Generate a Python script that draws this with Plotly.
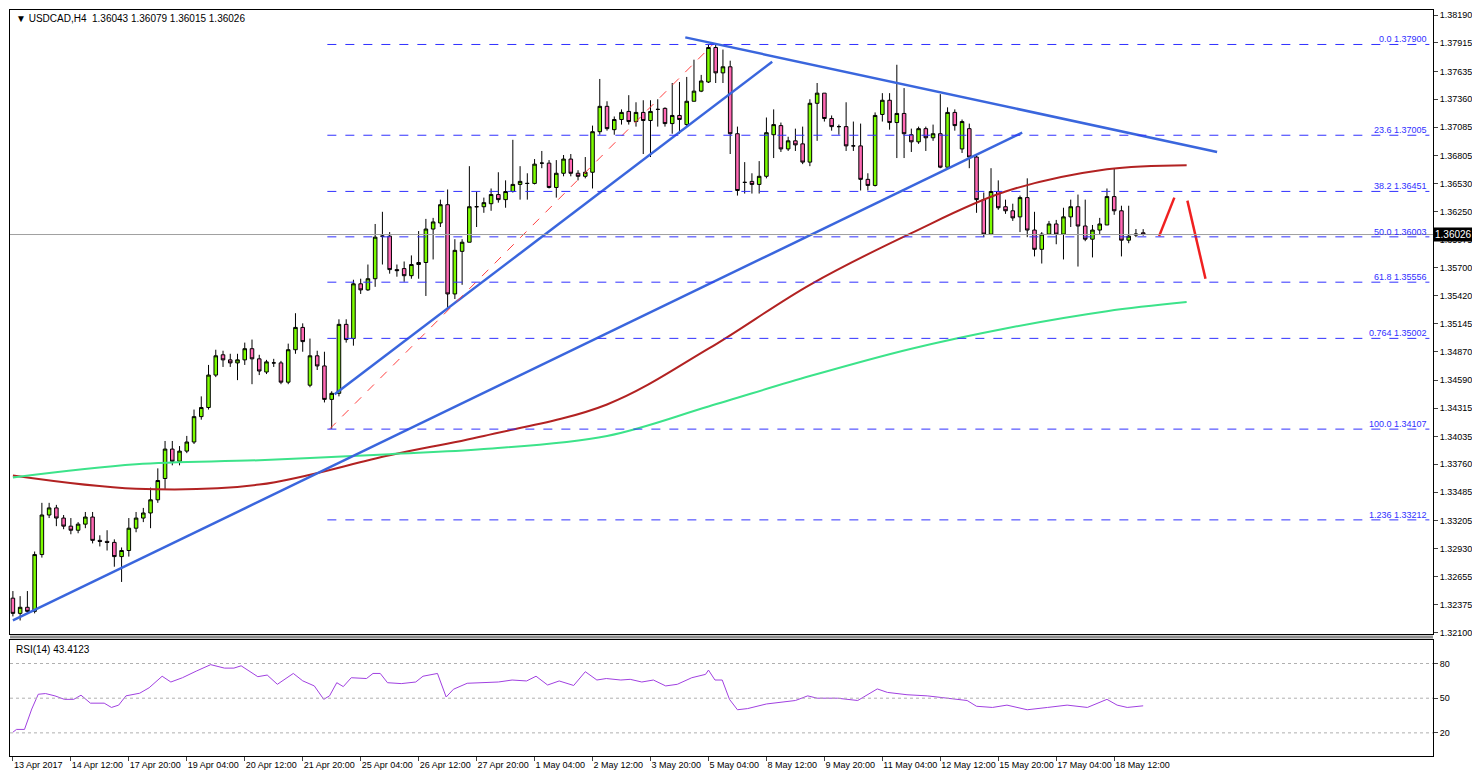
import plotly.graph_objects as go

# USDCAD H4 candles (open, high, low, close)
candles = [
    (1.3244, 1.3251, 1.3226, 1.3229), (1.3229, 1.3246, 1.3222, 1.3235), (1.3235, 1.3251, 1.3229, 1.3231),
    (1.3231, 1.3290, 1.3229, 1.3287), (1.3287, 1.3338, 1.3284, 1.3326), (1.3326, 1.3338, 1.3323, 1.3333),
    (1.3333, 1.3336, 1.3315, 1.3323), (1.3323, 1.3326, 1.3312, 1.3315), (1.3315, 1.3323, 1.3307, 1.3311),
    (1.3311, 1.3319, 1.3308, 1.3317), (1.3317, 1.3329, 1.3313, 1.3324), (1.3324, 1.3329, 1.3298, 1.3301),
    (1.3301, 1.3306, 1.3295, 1.3300), (1.3300, 1.3311, 1.3291, 1.3299), (1.3299, 1.3302, 1.3275, 1.3285),
    (1.3285, 1.3294, 1.3260, 1.3291), (1.3291, 1.3323, 1.3285, 1.3313), (1.3313, 1.3329, 1.3309, 1.3323),
    (1.3323, 1.3333, 1.3319, 1.3328), (1.3328, 1.3353, 1.3313, 1.3341), (1.3341, 1.3372, 1.3338, 1.3360),
    (1.3362, 1.3399, 1.3351, 1.3391), (1.3391, 1.3399, 1.3375, 1.3379), (1.3379, 1.3394, 1.3375, 1.3389),
    (1.3389, 1.3404, 1.3387, 1.3398), (1.3398, 1.3430, 1.3396, 1.3423), (1.3423, 1.3443, 1.3420, 1.3432),
    (1.3432, 1.3474, 1.3430, 1.3464), (1.3464, 1.3489, 1.3462, 1.3483), (1.3484, 1.3488, 1.3472, 1.3479),
    (1.3479, 1.3485, 1.3472, 1.3476), (1.3476, 1.3485, 1.3459, 1.3479), (1.3479, 1.3496, 1.3474, 1.3490),
    (1.3490, 1.3499, 1.3455, 1.3480), (1.3480, 1.3484, 1.3464, 1.3468), (1.3467, 1.3479, 1.3465, 1.3477),
    (1.3476, 1.3480, 1.3472, 1.3476), (1.3476, 1.3478, 1.3455, 1.3457), (1.3457, 1.3495, 1.3455, 1.3489),
    (1.3489, 1.3525, 1.3485, 1.3511), (1.3511, 1.3515, 1.3487, 1.3497), (1.3454, 1.3500, 1.3452, 1.3483),
    (1.3483, 1.3488, 1.3469, 1.3473), (1.3473, 1.3487, 1.3437, 1.3440), (1.3440, 1.3448, 1.3411, 1.3446),
    (1.3446, 1.3519, 1.3443, 1.3514), (1.3514, 1.3519, 1.3496, 1.3499), (1.3500, 1.3558, 1.3493, 1.3554),
    (1.3554, 1.3559, 1.3544, 1.3548), (1.3548, 1.3573, 1.3547, 1.3559), (1.3559, 1.3613, 1.3551, 1.3600),
    (1.3601, 1.3625, 1.3573, 1.3601), (1.3601, 1.3605, 1.3564, 1.3568), (1.3568, 1.3573, 1.3561, 1.3567),
    (1.3569, 1.3576, 1.3556, 1.3562), (1.3562, 1.3582, 1.3559, 1.3573), (1.3573, 1.3606, 1.3559, 1.3575),
    (1.3575, 1.3618, 1.3542, 1.3608), (1.3608, 1.3619, 1.3578, 1.3615), (1.3614, 1.3637, 1.3610, 1.3632),
    (1.3632, 1.3647, 1.3530, 1.3544), (1.3544, 1.3598, 1.3539, 1.3587), (1.3586, 1.3598, 1.3553, 1.3595),
    (1.3595, 1.3670, 1.3595, 1.3630), (1.3630, 1.3645, 1.3610, 1.3630), (1.3630, 1.3639, 1.3624, 1.3634),
    (1.3633, 1.3648, 1.3626, 1.3642), (1.3642, 1.3664, 1.3634, 1.3637), (1.3637, 1.3656, 1.3629, 1.3645),
    (1.3645, 1.3696, 1.3644, 1.3652), (1.3652, 1.3670, 1.3637, 1.3655), (1.3653, 1.3663, 1.3637, 1.3653),
    (1.3653, 1.3677, 1.3652, 1.3672), (1.3673, 1.3685, 1.3668, 1.3673), (1.3673, 1.3676, 1.3648, 1.3649),
    (1.3649, 1.3676, 1.3639, 1.3663), (1.3663, 1.3681, 1.3660, 1.3677), (1.3677, 1.3682, 1.3660, 1.3663),
    (1.3663, 1.3666, 1.3656, 1.3660), (1.3660, 1.3679, 1.3658, 1.3664), (1.3664, 1.3710, 1.3648, 1.3704),
    (1.3704, 1.3756, 1.3701, 1.3729), (1.3729, 1.3734, 1.3705, 1.3707), (1.3706, 1.3719, 1.3701, 1.3716),
    (1.3716, 1.3726, 1.3711, 1.3723), (1.3724, 1.3740, 1.3711, 1.3714), (1.3714, 1.3733, 1.3709, 1.3723),
    (1.3723, 1.3735, 1.3682, 1.3715), (1.3715, 1.3735, 1.3679, 1.3724), (1.3726, 1.3736, 1.3709, 1.3726),
    (1.3727, 1.3728, 1.3709, 1.3712), (1.3712, 1.3752, 1.3702, 1.3720), (1.3720, 1.3753, 1.3702, 1.3716),
    (1.3711, 1.3758, 1.3709, 1.3734), (1.3734, 1.3775, 1.3734, 1.3744), (1.3744, 1.3760, 1.3743, 1.3754),
    (1.3753, 1.3790, 1.3752, 1.3787), (1.3787, 1.3791, 1.3752, 1.3762), (1.3762, 1.3785, 1.3752, 1.3768),
    (1.3768, 1.3774, 1.3682, 1.3702), (1.3702, 1.3709, 1.3641, 1.3646), (1.3654, 1.3674, 1.3643, 1.3654),
    (1.3655, 1.3663, 1.3643, 1.3652), (1.3652, 1.3675, 1.3643, 1.3660), (1.3660, 1.3718, 1.3658, 1.3703),
    (1.3701, 1.3726, 1.3678, 1.3711), (1.3710, 1.3713, 1.3684, 1.3687), (1.3687, 1.3699, 1.3685, 1.3695),
    (1.3695, 1.3707, 1.3685, 1.3691), (1.3692, 1.3709, 1.3672, 1.3674), (1.3674, 1.3736, 1.3670, 1.3732),
    (1.3732, 1.3752, 1.3695, 1.3742), (1.3742, 1.3742, 1.3714, 1.3717), (1.3717, 1.3720, 1.3705, 1.3709),
    (1.3709, 1.3711, 1.3701, 1.3709), (1.3709, 1.3733, 1.3685, 1.3690), (1.3690, 1.3714, 1.3685, 1.3690),
    (1.3690, 1.3712, 1.3646, 1.3657), (1.3657, 1.3663, 1.3646, 1.3651), (1.3651, 1.3723, 1.3650, 1.3720),
    (1.3721, 1.3742, 1.3714, 1.3735), (1.3735, 1.3742, 1.3706, 1.3713), (1.3713, 1.3770, 1.3678, 1.3722),
    (1.3722, 1.3747, 1.3678, 1.3702), (1.3701, 1.3707, 1.3684, 1.3694), (1.3694, 1.3709, 1.3692, 1.3707),
    (1.3707, 1.3709, 1.3685, 1.3698), (1.3698, 1.3711, 1.3695, 1.3702), (1.3702, 1.3741, 1.3668, 1.3669),
    (1.3669, 1.3728, 1.3668, 1.3723), (1.3723, 1.3726, 1.3705, 1.3710), (1.3687, 1.3716, 1.3683, 1.3714),
    (1.3707, 1.3712, 1.3668, 1.3679), (1.3679, 1.3682, 1.3624, 1.3637), (1.3637, 1.3644, 1.3600, 1.3603),
    (1.3603, 1.3668, 1.3602, 1.3645), (1.3645, 1.3656, 1.3627, 1.3629), (1.3630, 1.3637, 1.3623, 1.3626),
    (1.3626, 1.3633, 1.3616, 1.3619), (1.3620, 1.3641, 1.3605, 1.3639), (1.3639, 1.3658, 1.3600, 1.3607),
    (1.3607, 1.3625, 1.3581, 1.3588), (1.3588, 1.3605, 1.3574, 1.3603), (1.3603, 1.3616, 1.3602, 1.3613),
    (1.3613, 1.3617, 1.3593, 1.3603), (1.3603, 1.3629, 1.3578, 1.3620), (1.3620, 1.3637, 1.3610, 1.3630),
    (1.3630, 1.3642, 1.3571, 1.3611), (1.3611, 1.3637, 1.3596, 1.3598), (1.3598, 1.3612, 1.3580, 1.3607),
    (1.3607, 1.3619, 1.3603, 1.3613), (1.3612, 1.3648, 1.3612, 1.3640), (1.3640, 1.3668, 1.3622, 1.3626),
    (1.3626, 1.3631, 1.3581, 1.3597), (1.3597, 1.3631, 1.3594, 1.3601), (1.3602, 1.3608, 1.3600, 1.3603),
    (1.36043, 1.36079, 1.36015, 1.36026),
]

tick_labels = ["13 Apr 2017", "14 Apr 12:00", "17 Apr 20:00", "19 Apr 04:00", "20 Apr 12:00",
               "21 Apr 20:00", "25 Apr 04:00", "26 Apr 12:00", "27 Apr 20:00", "1 May 04:00",
               "2 May 12:00", "3 May 20:00", "5 May 04:00", "8 May 12:00", "9 May 20:00",
               "11 May 04:00", "12 May 12:00", "15 May 20:00", "17 May 04:00", "18 May 12:00"]
tick_pos = [0, 8, 16, 24, 32, 40, 48, 56, 64, 72, 80, 88, 96, 104, 112, 120, 128, 136, 144, 152]

# moving averages sampled along the chart
ma_idx = [0, 17, 34, 52, 65, 82, 96, 110, 124, 137, 151, 162]
ma100 = [1.3365, 1.3352, 1.3356, 1.3385, 1.3404, 1.3435, 1.3490, 1.3553, 1.3604, 1.3645, 1.3667, 1.3671]
ma200 = [1.3363, 1.3376, 1.3380, 1.3386, 1.3391, 1.3404, 1.3433, 1.3463, 1.3490, 1.3510, 1.3527, 1.3536]

# fibonacci retracement
fib_names = ["0.0", "23.6", "38.2", "50.0", "61.8", "0.764", "100.0", "1.236"]
fib_prices = [1.37900, 1.37005, 1.36451, 1.36003, 1.35556, 1.35002, 1.34107, 1.33212]

# hand drawn trendlines: (x0, y0, x1, y1)
trend_lines = [(0, 1.3222, 139.3, 1.3703), (44.4, 1.3445, 104.8, 1.3773), (92.8, 1.3797, 166.2, 1.3684)]
arrow_x = [158.2, 160.3]
arrow_y = [1.3601, 1.3639]
arrow2_x = [162.1, 164.6]
arrow2_y = [1.3636, 1.3559]

rsi_idx = [0, 0.5, 1.6, 2.6, 3.5, 4.5, 5.8, 7.1, 8.4, 9.4, 10.7, 12.6, 13.6, 14.6, 15.6, 17.5, 18.8, 20.6,
           21.8, 23.4, 25.3, 27.3, 29.2, 30.5, 31.5, 33.8, 35.1, 36.5, 38.7, 40, 41.6, 42.9, 43.7, 44.7,
           45.6, 46.7, 48.8, 49.7, 50.7, 51.7, 53.6, 55.6, 56.6, 58.6, 59.8, 60.8, 62.7, 65, 67, 68.9,
           70.9, 72.2, 73.8, 75.4, 77.4, 79, 80.6, 81.9, 83.9, 85.2, 86.8, 88.4, 90.1, 91.7, 93.7, 95.6,
           96, 96.9, 97.9, 98.9, 100, 101.4, 104, 108, 109.7, 111, 113.8, 116.6, 119.3, 120.7, 123.4,
           126.2, 129, 131.7, 133, 135.2, 137.2, 140, 142.8, 145.5, 148.3, 151, 152.4, 153.8, 156]
rsi_vals = [20.6, 23, 23, 40.6, 53.4, 54, 52, 49, 49, 52.6, 45.7, 45.7, 42, 44, 52, 54.3, 59, 69, 64,
            67.7, 73.4, 79, 76, 76, 78, 68.6, 70, 62, 71.4, 65, 60.6, 49, 52, 63.4, 60, 67.7, 67, 71.4,
            71.4, 63.4, 62.6, 64, 69, 71.4, 51, 57.7, 62.9, 63.4, 64, 65.7, 64.9, 69, 61.4, 64.9, 61, 72.9,
            65.7, 67, 65.7, 66.3, 64, 65.7, 60.6, 62, 67.7, 70.6, 74.3, 65.7, 65.7, 49, 40, 41, 45, 48,
            52, 50, 50, 48, 58, 55, 53, 52, 50, 48, 43, 42, 44, 40, 42, 44, 42, 49, 44, 42, 43.4]

price_ticks = [1.38190, 1.37915, 1.37635, 1.37360, 1.37085, 1.36805, 1.36530, 1.36250, 1.35975,
               1.35700, 1.35420, 1.35145, 1.34870, 1.34590, 1.34315, 1.34035, 1.33760, 1.33485,
               1.33205, 1.32930, 1.32655, 1.32375, 1.32100]
last_price = 1.36026

FONT = "Liberation Sans"
idx = list(range(len(candles)))

fig = go.Figure()
fig.add_trace(go.Candlestick(
    x=idx, open=[c[0] for c in candles], high=[c[1] for c in candles],
    low=[c[2] for c in candles], close=[c[3] for c in candles],
    increasing=dict(fillcolor="#7CFC00", line=dict(color="black", width=1)),
    decreasing=dict(fillcolor="#FF69B4", line=dict(color="black", width=1)),
    whiskerwidth=0, xaxis="x", yaxis="y", showlegend=False))

fig.add_trace(go.Scatter(x=ma_idx, y=ma100, mode="lines", line=dict(color="#B22222", width=2, shape="spline"),
                         xaxis="x", yaxis="y", showlegend=False))
fig.add_trace(go.Scatter(x=ma_idx, y=ma200, mode="lines", line=dict(color="#3CE38A", width=2, shape="spline"),
                         xaxis="x", yaxis="y", showlegend=False))

for x0, y0, x1, y1 in trend_lines:
    fig.add_trace(go.Scatter(x=[x0, x1], y=[y0, y1], mode="lines", line=dict(color="#3A66DD", width=2.5),
                             xaxis="x", yaxis="y", showlegend=False))
fig.add_trace(go.Scatter(x=[43.7, 96.6], y=[fib_prices[6], fib_prices[0]], mode="lines",
                         line=dict(color="#FF4040", width=1, dash="dash"), xaxis="x", yaxis="y", showlegend=False))
for ax_, ay_ in [(arrow_x, arrow_y), (arrow2_x, arrow2_y)]:
    fig.add_trace(go.Scatter(x=ax_, y=ay_, mode="lines", line=dict(color="#F02020", width=2.5),
                             xaxis="x", yaxis="y", showlegend=False))

fig.add_trace(go.Scatter(x=rsi_idx, y=rsi_vals, mode="lines", line=dict(color="#A040E0", width=1),
                         xaxis="x2", yaxis="y2", showlegend=False))

shapes = []
for p in fib_prices:
    shapes.append(dict(type="line", xref="x", yref="y", x0=43.4, x1=195.5, y0=p, y1=p,
                       line=dict(color="#3030FF", width=1, dash="dash")))
shapes.append(dict(type="line", xref="paper", yref="y", x0=0, x1=1, y0=last_price, y1=last_price,
                   line=dict(color="#A0A0A0", width=1)))
for lvl in [80, 50, 20]:
    shapes.append(dict(type="line", xref="paper", yref="y2", x0=0, x1=1, y0=lvl, y1=lvl,
                       line=dict(color="#B0B0B0", width=1, dash="dot")))
shapes.append(dict(type="line", xref="paper", yref="paper", x0=0, x1=1, y0=0.1595, y1=0.1595,
                   line=dict(color="#909090", width=3)))

annotations = []
for name, p in zip(fib_names, fib_prices):
    annotations.append(dict(x=195.5, y=p, xref="x", yref="y", text=f"{name} {p:.5f}", showarrow=False,
                            xanchor="right", yanchor="bottom", yshift=-2,
                            font=dict(family=FONT, size=9, color="#3030FF")))
annotations.append(dict(x=1, y=last_price, xref="paper", yref="y", text=f"{last_price:.5f}", showarrow=False,
                        xanchor="left", bgcolor="black", font=dict(family=FONT, size=10, color="white")))
annotations.append(dict(x=0.003, y=0.999, xref="paper", yref="paper", text="▼ USDCAD,H4  1.36043 1.36079 1.36015 1.36026",
                        showarrow=False, xanchor="left", yanchor="top", font=dict(family=FONT, size=10, color="black")))
annotations.append(dict(x=0.003, y=0.153, xref="paper", yref="paper", text="RSI(14) 43.4123",
                        showarrow=False, xanchor="left", yanchor="top", font=dict(family=FONT, size=10, color="black")))

fig.update_layout(
    width=1480, height=772, margin=dict(l=2, r=55, t=2, b=24),
    paper_bgcolor="white", plot_bgcolor="white",
    font=dict(family=FONT, size=10, color="black"),
    shapes=shapes, annotations=annotations,
    xaxis=dict(domain=[0, 1], range=[-0.4, 196], anchor="y", showticklabels=False, showgrid=False,
               rangeslider=dict(visible=False), showline=True, linecolor="black", mirror=True, zeroline=False),
    xaxis2=dict(domain=[0, 1], range=[-0.4, 196], anchor="y2", matches="x", tickvals=tick_pos,
                ticktext=tick_labels, ticks="outside", ticklen=4, tickangle=0, ticklabelposition="outside right",
                showgrid=False, showline=True, linecolor="black", mirror=True, zeroline=False,
                tickfont=dict(size=9)),
    yaxis=dict(domain=[0.164, 1], range=[1.3209, 1.3824], side="right", tickvals=price_ticks,
               ticktext=[f"{t:.5f}" for t in price_ticks], ticks="outside", ticklen=4, showgrid=False,
               showline=True, linecolor="black", mirror=True, zeroline=False, tickfont=dict(size=9)),
    yaxis2=dict(domain=[0, 0.155], range=[0, 100], side="right", tickvals=[80, 50, 20], ticks="outside",
                ticklen=4, showgrid=False, showline=True, linecolor="black", mirror=True, zeroline=False,
                tickfont=dict(size=9)),
)

fig.write_html("out.html")
